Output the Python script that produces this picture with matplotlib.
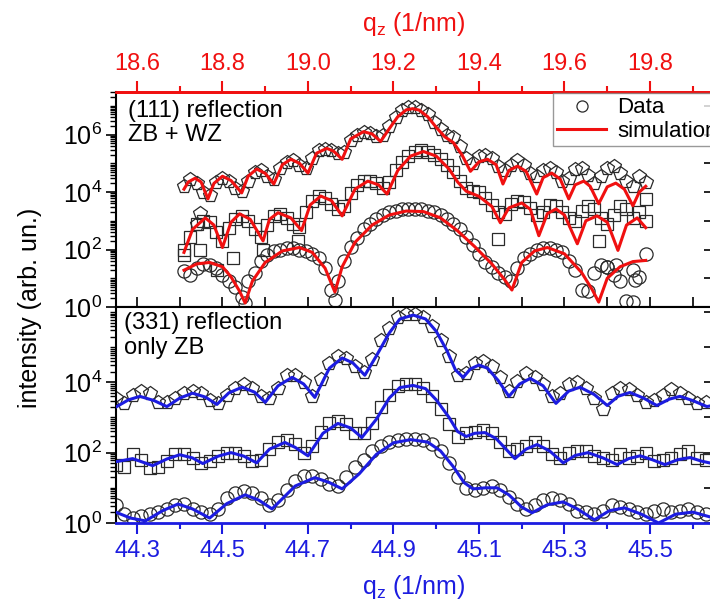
import numpy as np
import matplotlib
matplotlib.use("Agg")
import matplotlib.pyplot as plt
from matplotlib.ticker import MultipleLocator, FixedLocator, FuncFormatter, LogLocator, NullLocator, NullFormatter
from matplotlib.lines import Line2D

plt.rcParams['font.family'] = ['Liberation Sans', 'DejaVu Sans']
plt.rcParams['mathtext.fontset'] = 'custom'
plt.rcParams['mathtext.rm'] = 'Liberation Sans'
plt.rcParams['mathtext.it'] = 'Liberation Sans:italic'

RED = '#f01010'
BLUE = '#1c1ce0'

# ---- (111) reflection, log10 intensity, data on a 0.015 grid 18.71..19.79
q111_start, q111_stop = 18.71, 19.79
d111_pent = [4.2, 4.45, 4.3, 4.0, 3.9, 4.35, 4.5, 4.4, 4.15, 4.05,
             4.4, 4.7, 4.75, 4.55, 4.45, 4.85, 5.05, 5.1, 4.95, 4.85,
             5.2, 5.45, 5.5, 5.45, 5.35, 5.4, 5.8, 6.0, 6.1, 6.05,
             5.95, 6.0, 6.3, 6.6, 6.85, 6.95, 6.95, 6.85, 6.7, 6.45,
             6.2, 6.0, 5.9, 5.6, 5.2, 5.0, 5.25, 5.3, 5.2, 4.9,
             4.75, 4.95, 5.1, 4.95, 4.65, 4.55, 4.75, 4.85, 4.7, 4.4,
             4.5, 4.8, 4.85, 4.6, 4.3, 4.55, 4.85, 4.9, 4.65, 4.4,
             4.2, 4.55, 4.35]
d111_sq = [2.0, 2.45, 2.9, 3.0, 2.95, 2.6, 2.3, 2.75, 3.05, 3.15,
           3.0, 2.7, 2.45, 2.85, 3.15, 3.25, 3.1, 2.9, 2.8, 3.3,
           3.7, 3.85, 3.8, 3.6, 3.4, 3.5, 3.95, 4.25, 4.4, 4.4,
           4.3, 4.15, 4.35, 4.75, 5.05, 5.25, 5.4, 5.45, 5.4, 5.3,
           5.15, 4.95, 4.7, 4.4, 4.15, 4.05, 4.0, 3.8, 3.55, 3.3,
           3.25, 3.6, 3.7, 3.65, 3.45, 3.2, 3.3, 3.55, 3.5, 3.3,
           3.1, 3.0, 3.35, 3.5, 3.4, 3.1, 2.9, 3.2, 3.5, 3.4,
           3.1, 3.3, 3.75]
d111_circ = [1.25, 1.1, 1.35, 1.5, 1.45, 1.35, 1.1, 0.9, 0.7, 0.35,
             0.9, 1.2, 1.6, 1.8, 1.95, 2.0, 2.05, 2.05, 2.0, 1.95,
             1.85, 1.7, 1.35, 0.6, 0.9, 1.6, 2.1, 2.4, 2.7, 2.9,
             3.05, 3.2, 3.3, 3.35, 3.4, 3.4, 3.4, 3.4, 3.35, 3.3,
             3.2, 3.05, 2.9, 2.7, 2.45, 2.15, 1.85, 1.55, 1.4, 1.2,
             1.05, 0.9, 1.35, 1.7, 1.85, 2.0, 2.05, 2.05, 2.0, 1.9,
             1.6, 1.3, 0.6, 0.55, 1.2, 1.45, 1.4, 1.1, 0.9, 0.2,
             1.3, 1.05, 1.85]
# scattered extra points
x111_pent_extra = [18.74, 18.747]
y111_pent_extra = [2.9, 3.28]
x111_sq_extra = [18.71, 18.747, 18.787, 18.825, 18.895, 18.977, 19.445, 19.68, 19.79]
y111_sq_extra = [1.8, 1.97, 1.28, 1.72, 1.97, 2.3, 2.38, 2.3, 3.0]
x111_circ_extra = [18.853, 19.063, 19.70, 19.72, 19.76, 19.765]
y111_circ_extra = [0.15, 0.25, 1.38, 1.45, 0.17, 0.93]

# simulations (111)
s111a_q = [18.71, 18.72, 18.736, 18.75, 18.766, 18.78, 18.80, 18.82, 18.845, 18.86,
           18.88, 18.90, 18.92, 18.94, 18.96, 18.98, 19.00, 19.02, 19.044, 19.06,
           19.08, 19.10, 19.13, 19.15, 19.17, 19.19, 19.21, 19.23, 19.245, 19.26,
           19.28, 19.30, 19.32, 19.34, 19.36, 19.38, 19.40, 19.42, 19.44, 19.456,
           19.47, 19.49, 19.51, 19.535, 19.55, 19.57, 19.59, 19.61, 19.625, 19.645,
           19.66, 19.68, 19.70, 19.72, 19.74, 19.76, 19.775, 19.79]
s111a_y = [4.10, 4.35, 4.48, 4.35, 3.76, 4.30, 4.55, 4.40, 3.97, 4.55,
           4.80, 4.65, 4.28, 4.95, 5.14, 5.00, 4.66, 5.35, 5.52, 5.42,
           5.14, 5.85, 6.10, 6.02, 5.76, 6.20, 6.62, 6.86, 6.90, 6.85,
           6.62, 6.25, 5.92, 5.72, 5.30, 4.72, 5.05, 5.14, 4.95, 4.28,
           4.75, 4.90, 4.72, 3.93, 4.50, 4.66, 4.45, 3.76, 4.25, 4.38,
           4.20, 3.59, 4.18, 4.31, 4.10, 3.52, 4.00, 4.20]
s111b_q = [18.71, 18.73, 18.76, 18.78, 18.80, 18.82, 18.84, 18.865, 18.895, 18.91,
           18.93, 18.96, 18.985, 19.005, 19.03, 19.055, 19.08, 19.11, 19.14, 19.165,
           19.185, 19.21, 19.24, 19.27, 19.30, 19.33, 19.35, 19.37, 19.40, 19.43,
           19.45, 19.47, 19.50, 19.52, 19.54, 19.56, 19.58, 19.60, 19.63, 19.65,
           19.676, 19.70, 19.725, 19.745, 19.77, 19.79]
s111b_y = [1.90, 2.70, 3.10, 2.85, 2.07, 2.95, 3.24, 3.05, 2.30, 3.05,
           3.28, 3.10, 2.66, 3.55, 3.86, 3.70, 3.17, 4.10, 4.38, 4.25,
           3.93, 4.75, 5.25, 5.41, 5.25, 4.80, 4.35, 4.03, 3.85, 3.50,
           2.93, 3.45, 3.62, 3.40, 2.48, 3.25, 3.41, 3.20, 2.20, 3.00,
           3.17, 2.95, 1.97, 2.85, 3.10, 2.76]
s111c_q = [18.71, 18.74, 18.77, 18.80, 18.82, 18.84, 18.853, 18.87, 18.90, 18.94,
           18.98, 19.01, 19.04, 19.063, 19.08, 19.11, 19.15, 19.19, 19.23, 19.27,
           19.31, 19.35, 19.39, 19.43, 19.46, 19.477, 19.50, 19.53, 19.56, 19.60,
           19.64, 19.665, 19.68, 19.70, 19.73, 19.76, 19.79]
s111c_y = [1.28, 1.50, 1.55, 1.40, 1.05, 0.55, 0.14, 0.90, 1.55, 1.95,
           2.07, 1.90, 1.35, 0.52, 1.40, 2.25, 2.85, 3.20, 3.34, 3.32,
           3.10, 2.65, 2.10, 1.50, 0.95, 0.59, 1.55, 1.95, 2.07, 1.85,
           1.20, 0.60, 0.17, 1.00, 1.40, 1.58, 1.62]

# ---- (331) reflection, data on a 0.02 grid 44.25..45.63
q331_start, q331_stop = 44.25, 45.63
d331_pent = [3.55, 3.40, 3.65, 3.75, 3.70, 3.45, 3.45, 3.55, 3.70, 3.75,
             3.70, 3.50, 3.40, 3.65, 3.85, 3.95, 3.85, 3.60, 3.55, 3.85,
             4.20, 4.20, 4.00, 3.60, 4.10, 4.55, 4.75, 4.70, 4.45, 4.30,
             4.65, 5.20, 5.55, 5.85, 5.95, 5.95, 5.85, 5.60, 5.20, 4.75,
             4.20, 4.25, 4.55, 4.60, 4.45, 4.15, 3.75, 4.05, 4.25, 4.15,
             3.95, 3.60, 3.70, 3.95, 4.00, 3.85, 3.55, 3.25, 3.70, 3.85,
             3.80, 3.65, 3.45, 3.50, 3.65, 3.80, 3.70, 3.55, 3.40, 3.45]
d331_sq = [1.65, 1.60, 1.95, 1.80, 1.55, 1.60, 1.75, 1.95, 1.95, 1.85,
           1.70, 1.75, 1.90, 2.00, 2.00, 1.90, 1.75, 1.80, 2.10, 2.30,
           2.35, 2.25, 2.00, 2.20, 2.60, 2.85, 2.90, 2.80, 2.55, 2.55,
           2.85, 3.30, 3.65, 3.90, 3.95, 3.95, 3.85, 3.60, 3.25, 2.80,
           2.45, 2.55, 2.60, 2.65, 2.55, 2.30, 2.05, 2.10, 2.20, 2.30,
           2.20, 1.95, 1.85, 2.00, 2.05, 2.05, 1.90, 1.85, 1.80, 1.95,
           1.85, 1.90, 2.00, 1.75, 1.80, 1.85, 1.95, 2.05, 1.85, 1.80]
d331_circ = [0.50, 0.25, 0.15, 0.20, 0.25, 0.30, 0.40, 0.50, 0.55, 0.40,
             0.30, 0.25, 0.40, 0.70, 0.85, 0.90, 0.85, 0.70, 0.50, 0.65,
             0.95, 1.20, 1.35, 1.35, 1.25, 1.10, 1.05, 1.30, 1.60, 1.80,
             2.05, 2.20, 2.30, 2.35, 2.40, 2.40, 2.35, 2.25, 2.05, 1.70,
             1.30, 1.00, 0.95, 1.00, 1.05, 0.95, 0.75, 0.55, 0.40, 0.50,
             0.65, 0.70, 0.65, 0.55, 0.35, 0.30, 0.25, 0.35, 0.50, 0.45,
             0.40, 0.30, 0.25, 0.35, 0.40, 0.30, 0.35, 0.40, 0.30, 0.25]

s331a_q = [44.25, 44.28, 44.307, 44.34, 44.37, 44.40, 44.43, 44.46, 44.487, 44.515,
           44.546, 44.575, 44.60, 44.63, 44.663, 44.69, 44.716, 44.75, 44.78, 44.805,
           44.833, 44.86, 44.89, 44.915, 44.946, 44.975, 45.00, 45.025, 45.045, 45.063,
           45.08, 45.10, 45.12, 45.145, 45.17, 45.195, 45.22, 45.25, 45.28, 45.31,
           45.336, 45.37, 45.40, 45.425, 45.453, 45.485, 45.516, 45.545, 45.57, 45.60,
           45.633, 45.65]
s331a_y = [3.29, 3.50, 3.60, 3.48, 3.31, 3.55, 3.69, 3.58, 3.37, 3.70,
           3.86, 3.72, 3.43, 3.90, 4.14, 3.95, 3.57, 4.40, 4.69, 4.55,
           4.20, 4.75, 5.40, 5.80, 5.91, 5.80, 5.45, 4.90, 4.35, 4.14,
           4.38, 4.49, 4.40, 4.05, 3.60, 3.95, 4.11, 3.90, 3.40, 3.75,
           3.86, 3.65, 3.34, 3.60, 3.71, 3.55, 3.34, 3.52, 3.60, 3.48,
           3.31, 3.35]
s331b_q = [44.25, 44.29, 44.337, 44.37, 44.40, 44.43, 44.454, 44.49, 44.52, 44.55,
           44.58, 44.61, 44.646, 44.67, 44.70, 44.735, 44.77, 44.80, 44.826, 44.86,
           44.89, 44.915, 44.946, 44.975, 45.00, 45.03, 45.05, 45.07, 45.09, 45.114,
           45.14, 45.184, 45.21, 45.236, 45.265, 45.297, 45.325, 45.355, 45.39, 45.423,
           45.45, 45.477, 45.505, 45.535, 45.565, 45.594, 45.62, 45.65]
s331b_y = [1.74, 1.83, 1.63, 1.82, 1.94, 1.85, 1.69, 1.90, 2.00, 1.90,
           1.71, 2.10, 2.29, 2.15, 1.91, 2.55, 2.83, 2.70, 2.43, 2.95,
           3.55, 3.85, 3.91, 3.82, 3.50, 3.00, 2.60, 2.46, 2.55, 2.57,
           2.40, 1.83, 2.10, 2.23, 2.05, 1.71, 1.92, 2.00, 1.85, 1.66,
           1.83, 1.91, 1.80, 1.66, 1.80, 1.86, 1.76, 1.68]
s331c_q = [44.25, 44.285, 44.32, 44.36, 44.396, 44.43, 44.47, 44.51, 44.553, 44.585,
           44.616, 44.67, 44.716, 44.75, 44.78, 44.82, 44.86, 44.90, 44.94, 44.98,
           45.01, 45.04, 45.065, 45.086, 45.115, 45.142, 45.17, 45.20, 45.224, 45.26,
           45.297, 45.33, 45.37, 45.405, 45.44, 45.48, 45.52, 45.56, 45.60, 45.65]
s331c_y = [0.31, 0.14, 0.06, 0.35, 0.54, 0.40, 0.14, 0.55, 0.80, 0.65,
           0.40, 1.05, 1.29, 1.15, 0.97, 1.40, 1.95, 2.28, 2.37, 2.30,
           2.05, 1.60, 1.15, 0.97, 1.00, 1.00, 0.80, 0.45, 0.29, 0.52,
           0.60, 0.40, 0.09, 0.35, 0.43, 0.25, 0.00, 0.25, 0.31, 0.14]

top_ticks = [18.6, 18.8, 19.0, 19.2, 19.4, 19.6, 19.8]
bottom_ticks = [44.3, 44.5, 44.7, 44.9, 45.1, 45.3, 45.5]


def lin(v):
    return 10 ** np.asarray(v, dtype=float)


fig = plt.figure(figsize=(7.1, 6.03), dpi=100)
L, R = 116 / 710, 712 / 710
y_mid = 1 - 307 / 603
ax1 = fig.add_axes([L, y_mid, R - L, (1 - 92 / 603) - y_mid])
ax2 = fig.add_axes([L, 1 - 523 / 603, R - L, y_mid - (1 - 523 / 603)])

mk = dict(ls='none', mfc='none', mec='#2a2a2a', mew=0.9, zorder=2)

# top panel
q1 = np.linspace(q111_start, q111_stop, len(d111_pent))
ax1.plot(q1, lin(d111_pent), marker='p', ms=10.5, **mk)
ax1.plot(x111_pent_extra, lin(y111_pent_extra), marker='p', ms=10.5, **mk)
ax1.plot(q1, lin(d111_sq), marker='s', ms=8.5, **mk)
ax1.plot(x111_sq_extra, lin(y111_sq_extra), marker='s', ms=8.5, **mk)
ax1.plot(q1, lin(d111_circ), marker='o', ms=9.5, **mk)
ax1.plot(x111_circ_extra, lin(y111_circ_extra), marker='o', ms=9.5, **mk)
for qq, yy in [(s111a_q, s111a_y), (s111b_q, s111b_y), (s111c_q, s111c_y)]:
    ax1.plot(qq, lin(yy), color=RED, lw=2.2, zorder=3)

# bottom panel
q2 = np.linspace(q331_start, q331_stop, len(d331_pent))
ax2.plot(q2, lin(d331_pent), marker='p', ms=10.5, **mk)
ax2.plot(q2, lin(d331_sq), marker='s', ms=8.5, **mk)
ax2.plot(q2, lin(d331_circ), marker='o', ms=9.5, **mk)
for qq, yy in [(s331a_q, s331a_y), (s331b_q, s331b_y), (s331c_q, s331c_y)]:
    ax2.plot(qq, lin(yy), color=BLUE, lw=2.2, zorder=3)

ax1.set_yscale('log')
ax2.set_yscale('log')
ax1.set_xlim(18.551, 19.945)
ax2.set_xlim(44.251, 45.645)
ax1.set_ylim(1, 10 ** 7.48)
ax2.set_ylim(1, 10 ** 6.14)

fmt = FuncFormatter(lambda v, p: r'$\mathregular{10^{%d}}$' % round(np.log10(v)))
for ax, majors in [(ax1, [1, 1e2, 1e4, 1e6]), (ax2, [1, 1e2, 1e4])]:
    ax.yaxis.set_major_locator(FixedLocator(majors))
    ax.yaxis.set_major_formatter(fmt)
    ax.yaxis.set_minor_locator(LogLocator(base=10, subs=np.arange(1, 10), numticks=60))
    ax.yaxis.set_minor_formatter(NullFormatter())
    ax.tick_params(axis='y', which='major', direction='out', length=7, width=1.2,
                   labelsize=18, left=True, right=False, pad=3)
    ax.tick_params(axis='y', which='minor', direction='out', length=4, width=1.0,
                   left=True, right=False)
    ax.spines['left'].set_linewidth(1.5)
    ax.spines['right'].set_visible(False)
    sec = ax.secondary_yaxis('right')
    sec.yaxis.set_major_locator(LogLocator(base=10, numticks=20))
    sec.yaxis.set_minor_locator(NullLocator())
    sec.tick_params(axis='y', direction='in', length=6, width=1.2, labelright=False)

# top panel x axes
ax1.xaxis.set_major_locator(MultipleLocator(0.1))
ax1.tick_params(axis='x', which='both', direction='in', length=7, width=1.2,
                bottom=True, top=False, labelbottom=False)
ax1.spines['bottom'].set_linewidth(1.5)
ax1.spines['top'].set_color(RED)
ax1.spines['top'].set_linewidth(2)
top = ax1.secondary_xaxis('top')
top.xaxis.set_major_locator(FixedLocator(top_ticks))
top.xaxis.set_minor_locator(MultipleLocator(0.1))
top.xaxis.set_major_formatter(FuncFormatter(lambda v, p: '%.1f' % v))
top.tick_params(axis='x', which='major', direction='out', length=8, width=1.5,
                colors=RED, labelsize=17, pad=4)
top.tick_params(axis='x', which='minor', direction='out', length=4, width=1.5, colors=RED)
top.spines['top'].set_color(RED)
top.spines['top'].set_linewidth(2)
top.set_xlabel(r'q$_\mathregular{z}$ (1/nm)', color=RED, fontsize=18, labelpad=16)

# bottom panel x axis
ax2.xaxis.set_major_locator(FixedLocator(bottom_ticks))
ax2.xaxis.set_minor_locator(MultipleLocator(0.1))
ax2.xaxis.set_major_formatter(FuncFormatter(lambda v, p: '%.1f' % v))
ax2.tick_params(axis='x', which='major', direction='out', length=8, width=1.5,
                colors=BLUE, labelsize=17, pad=4)
ax2.tick_params(axis='x', which='minor', direction='out', length=4, width=1.5, colors=BLUE)
ax2.spines['bottom'].set_color(BLUE)
ax2.spines['bottom'].set_linewidth(2)
ax2.spines['top'].set_linewidth(1.5)
ax2.set_xlabel(r'q$_\mathregular{z}$ (1/nm)', color=BLUE, fontsize=18, labelpad=8)

ax1.text(0.02, 0.965, '(111) reflection\nZB + WZ', transform=ax1.transAxes,
         ha='left', va='top', fontsize=17, linespacing=1.15)
ax2.text(0.013, 0.975, '(331) reflection\nonly ZB', transform=ax2.transAxes,
         ha='left', va='top', fontsize=17, linespacing=1.15)

fig.text(0.042, 0.49, 'intensity (arb. un.)', rotation=90, ha='center', va='center',
         fontsize=18)

handles = [Line2D([], [], ls='none', marker='o', ms=8, mfc='none', mec='#2a2a2a', mew=0.9),
           Line2D([], [], color=RED, lw=2.2)]
leg = fig.legend(handles, ['Data', 'simulation'], loc='upper left',
                 bbox_to_anchor=(553 / 710, 1 - 93 / 603), fontsize=16,
                 frameon=True, fancybox=False, borderpad=0.2, labelspacing=0.1,
                 handlelength=2.2, handletextpad=0.5, borderaxespad=0)
leg.get_frame().set_edgecolor('#808080')
leg.get_frame().set_linewidth(1.0)

fig.savefig('out.png', dpi=100)
